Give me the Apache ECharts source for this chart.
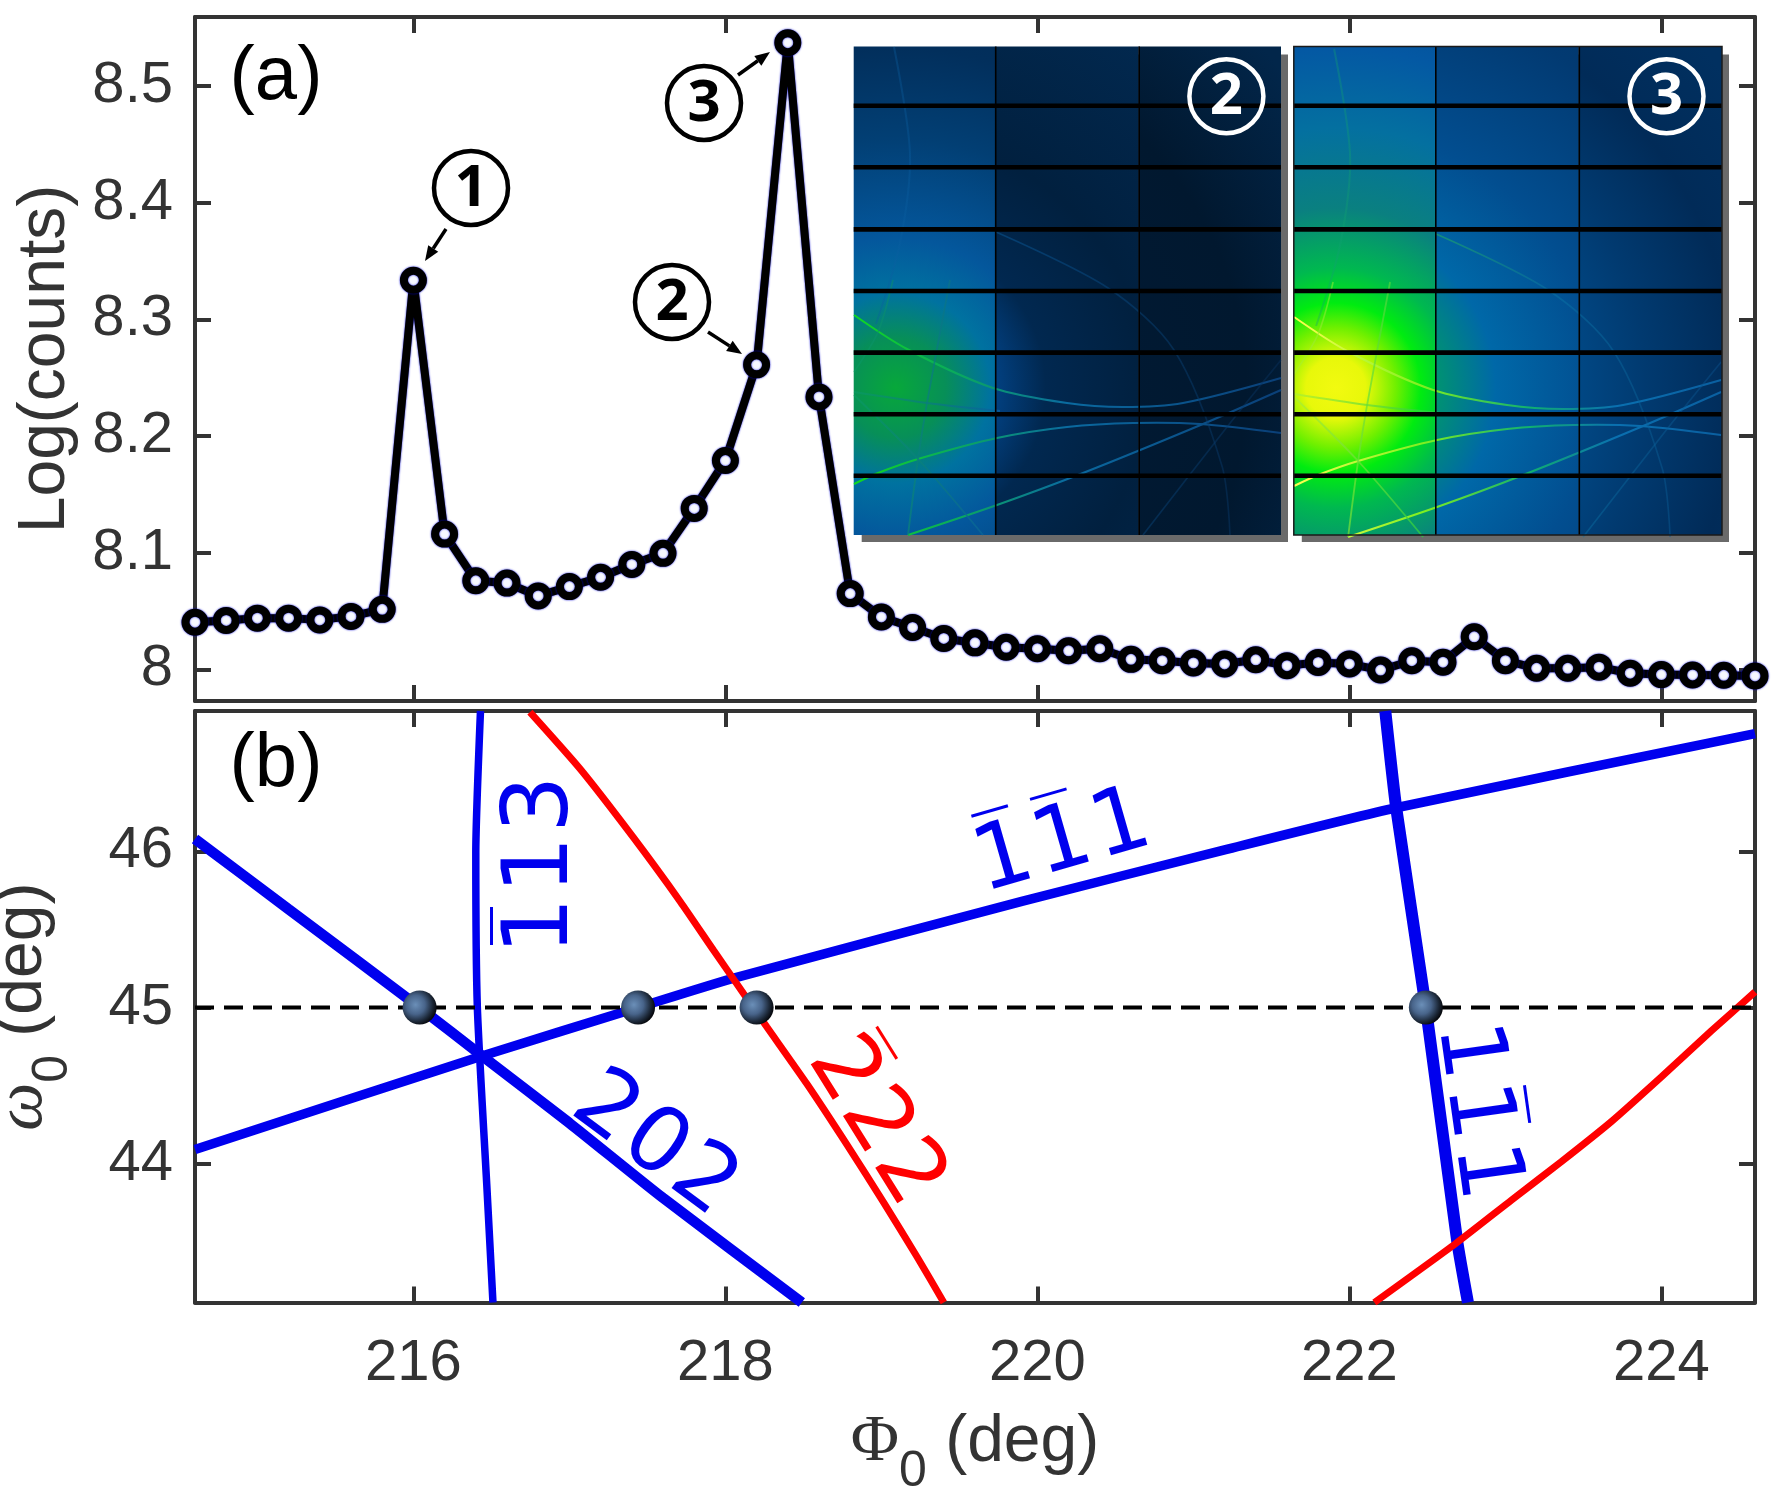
<!DOCTYPE html>
<html>
<head>
<meta charset="utf-8">
<title>Log(counts)</title>
<script src="https://cdn.jsdelivr.net/npm/echarts@6/dist/echarts.min.js"></script>
<style>
html, body { margin: 0; padding: 0; background: #fff; }
#main { width: 1775px; height: 1498px; }
</style>
</head>
<body>
<div id="main"></div>
<script>
// panel (a)
var phi = [214.6,214.8,215,215.2,215.4,215.6,215.8,216,216.2,216.4,216.6,216.8,217,217.2,217.4,217.6,217.8,218,218.2,218.4,218.6,218.8,
  219,219.2,219.4,219.6,219.8,220,220.2,220.4,220.6,220.8,221,221.2,221.4,221.6,221.8,222,222.2,222.4,222.6,222.8,223,223.2,223.4,223.6,223.8,224,224.2,224.4,224.6];
var logCounts = [8.0405,8.042,8.044,8.044,8.0425,8.0455,8.0515,8.3335,8.116,8.076,8.074,8.063,8.071,8.079,8.09,8.0995,8.138,8.179,8.261,8.537,8.2335,8.065,
  8.045,8.036,8.0266,8.0228,8.019,8.0178,8.016,8.0178,8.0087,8.0075,8.0056,8.0048,8.0083,8.0033,8.006,8.0048,7.9995,8.0075,8.0063,8.028,8.0075,8.001,8.001,8.002,7.9968,7.9956,7.9953,7.995,7.9945];

// panel (b), [phi, omega]
var line202 = [[214.6,46.08],[215.2,45.63],[216.04,45],[216.44,44.69],[217,44.26],[217.6,43.78],[218.49,43.11]];
var line113 = [[216.43,46.9],[216.40,45.99],[216.41,45],[216.47,43.87],[216.51,43.11]];
var line111a = [[214.6,44.09],[216.44,44.69],[217.44,45],[218.06,45.19],[219.9,45.68],[221.2,46.01],[222.3,46.28],[224.6,46.755]];
var line111b = [[222.23,46.9],[222.3,46.28],[222.49,45],[222.69,43.51],[222.76,43.11]];
var line222a = [[216.747,46.893],[217.068,46.53],[217.41,46.09],[217.71,45.68],[217.924,45.367],[218.116,45.09],[218.266,44.875],[218.523,44.51],[218.78,44.12],[219.015,43.75],[219.23,43.4],[219.4,43.11]];
var line222b = [[222.16,43.11],[222.684,43.49],[223.04,43.767],[223.358,44.012],[223.68,44.27],[224,44.556],[224.32,44.85],[224.6,45.1]];
var omegaLine = [[214.6,45],[224.6,45]];
var crossings = [[216.04,45],[217.44,45],[218.2,45],[222.49,45]];

var xTicks = [216,218,220,222,224];
var yTicksA = [8,8.1,8.2,8.3,8.4,8.5];
var yTicksB = [44,45,46];

var INK = '#333333', BLUE = '#0000ee', RED = '#ff0000';
var G = echarts.graphic;

function axis(gridIndex, min, max, ticks, pos, labels, extra) {
  var a = {
    type: 'value', gridIndex: gridIndex, min: min, max: max, position: pos,
    axisLine: { show: true, onZero: false, lineStyle: { color: INK, width: 4 } },
    axisTick: { show: true, inside: true, length: 16, customValues: ticks, lineStyle: { color: INK, width: 4 } },
    axisLabel: { show: labels, customValues: ticks, color: INK, fontSize: 58, fontFamily: 'Liberation Sans', margin: pos === 'left' ? 22 : 32, padding: pos === 'left' ? [8, 0, 0, 0] : 0 },
    splitLine: { show: false }
  };
  return Object.assign(a, extra || {});
}

function curve(data, color, width) {
  return {
    type: 'line', xAxisIndex: 2, yAxisIndex: 2, data: data, smooth: 0.2, showSymbol: false, symbol: 'none',
    lineStyle: { color: color, width: width, cap: 'butt' }, z: 3
  };
}

// ---- overlays
function arrow(x1, y1, x2, y2) {
  var a = Math.atan2(y2 - y1, x2 - x1), len = 15, w = 6;
  var bx = x2 - len * Math.cos(a), by = y2 - len * Math.sin(a);
  var nx = -Math.sin(a) * w, ny = Math.cos(a) * w;
  return [
    { type: 'line', z: 20, shape: { x1: x1, y1: y1, x2: bx, y2: by }, style: { stroke: '#000', lineWidth: 3.5 } },
    { type: 'polygon', z: 20, shape: { points: [[x2, y2], [bx + nx, by + ny], [bx - nx, by - ny]] }, style: { fill: '#000' } }
  ];
}

function badge(cx, cy, txt, color) {
  return [
    { type: 'circle', z: 20, shape: { cx: cx, cy: cy, r: 37 }, style: { fill: 'none', stroke: color, lineWidth: 4.5 } },
    { type: 'text', z: 21, style: { x: cx, y: cy + 1, text: txt, fill: color, font: 'bold 58px "Open Sans"', align: 'center', verticalAlign: 'middle', textAlign: 'center', textVerticalAlign: 'middle' } }
  ];
}

// rotated reflection label, one overbar per index in bars
function miller(cx, cy, deg, txt, bars, color) {
  var s = 90, adv = 61, n = txt.length, kids = [];
  txt.split('').forEach(function (ch, i) {
    kids.push({ type: 'text', style: { x: (i - (n - 1) / 2) * adv, y: 10, text: ch, fill: color, font: s + 'px "DejaVu Sans"', align: 'center', verticalAlign: 'middle', textAlign: 'center', textVerticalAlign: 'middle' } });
  });
  bars.forEach(function (i) {
    var mid = (i - (n - 1) / 2) * adv;
    kids.push({ type: 'rect', shape: { x: mid - 19, y: -44, width: 38, height: 3 }, style: { fill: color } });
  });
  return { type: 'group', x: cx, y: cy, rotation: deg * Math.PI / 180, z: 15, children: kids };
}

function stops(list) {
  return list.map(function (p) { return { offset: p[0], color: p[1] }; });
}

function inset(o) {
  var L = o.left, T = 46.5, W = o.width, H = 488.5, out = [];
  out.push({ type: 'rect', z: 10, shape: { x: L + 8, y: T + 8, width: W - 1, height: H - 1 }, style: { fill: '#6a6a6a' } });
  var cols = [[0, 142], [142, 143], [285, W - 285]];
  cols.forEach(function (c, i) {
    var fill = new G.RadialGradient(L + 42, 388, 500, stops(o.bands[i]), true);
    out.push({ type: 'rect', z: 11, shape: { x: L + c[0], y: T, width: c[1], height: H }, style: { fill: fill } });
  });
  // detector traces, drawn relative to the left inset
  var dx = L - 853.7;
  o.traces.forEach(function (t) {
    var pts = t.pts.map(function (p) { return [p[0] + dx, p[1] + o.dy]; });
    var stroke = new G.LinearGradient(L, 0, L + W, 0, stops(t.colors), true);
    out.push({ type: 'polyline', z: 12, shape: { points: pts, smooth: 0.3 }, style: { fill: 'none', stroke: stroke, lineWidth: t.w, opacity: t.op || 1 } });
  });
  [105.7, 167.3, 229.4, 291, 352.6, 414.2, 475.8].forEach(function (y) {
    out.push({ type: 'rect', z: 13, shape: { x: L, y: y - 2.3, width: W, height: 4.6 }, style: { fill: '#000' } });
  });
  [142, 285.5].forEach(function (x) {
    out.push({ type: 'rect', z: 13, shape: { x: L + x - 0.8, y: T, width: 1.6, height: H }, style: { fill: '#000' } });
  });
  return out;
}

var arcA = [[854,315],[907,349],[993,388],[1067,403],[1123,407],[1183,403],[1281,378]];
var arcB = [[854,484],[878,473],[918,459],[997,438],[1067,427],[1133,423],[1200,424],[1281,433]];
var arcC = [[908,535],[997,505],[1083,473],[1203,424],[1281,390]];
var diagD = [[854,395],[918,459],[983,535]];
var steepE = [[950,280],[927,403],[918,459],[908,535]];
var flatF = [[854,392],[927,403],[1000,411]];
var bigG = [[996,232],[1108,288],[1174,350],[1222,466],[1230,535]];
var leftH = [[893,280],[878,332],[854,372]];
var faintI = [[1143,535],[1227,427],[1281,360]];
var leftJ = [[894,47],[910,154],[900,243],[876,324]];

var tr2 = [[0,'#10d820'],[0.25,'#0aa860'],[0.5,'#0a6aa0'],[1,'#0a3f78']];
var tr2f = [[0,'#0a9a60'],[0.35,'#0a5ea0'],[1,'#08305c']];
var tr2j = [[0,'#0a5ea0'],[1,'#0a5ea0']];
var tr3 = [[0,'#ffff50'],[0.3,'#80f020'],[0.55,'#10b070'],[0.75,'#0a70b0'],[1,'#0a5fa0']];
var tr3f = [[0,'#b0f030'],[0.3,'#30d040'],[0.6,'#0a78a8'],[1,'#0a4f8c']];
var tr3j = [[0,'#10a070'],[1,'#10a070']];
function traces(main, faint, top) {
  return [
    { pts: arcA, colors: main, w: 2 }, { pts: arcB, colors: main, w: 2 }, { pts: arcC, colors: main, w: 2 },
    { pts: diagD, colors: faint, w: 1.8, op: 0.75 }, { pts: steepE, colors: faint, w: 1.8, op: 0.7 }, { pts: flatF, colors: faint, w: 1.8, op: 0.75 },
    { pts: bigG, colors: faint, w: 1.6, op: 0.45 }, { pts: leftH, colors: faint, w: 1.6, op: 0.6 },
    { pts: faintI, colors: faint, w: 1.6, op: 0.45 }, { pts: leftJ, colors: top, w: 2, op: 0.35 }
  ];
}

var inset2 = inset({
  left: 853.7, width: 427.3, dy: 0, traces: traces(tr2, tr2f, tr2j),
  bands: [
    [[0,'#07a83a'],[0.1,'#078f58'],[0.19,'#0072a0'],[0.3,'#04579c'],[0.5,'#023f74'],[0.68,'#022f5c'],[1,'#02264c']],
    [[0,'#024080'],[0.2,'#024080'],[0.3,'#012850'],[0.5,'#01203f'],[1,'#022c56']],
    [[0,'#011a34'],[0.4,'#011a34'],[0.7,'#01182f'],[1,'#02264a']]
  ]
});
var inset3 = inset({
  left: 1293.8, width: 428.2, dy: 2, traces: traces(tr3, tr3f, tr3j),
  bands: [
    [[0,'#f2fa10'],[0.06,'#e8f80a'],[0.12,'#70f000'],[0.17,'#00ec10'],[0.24,'#00b850'],[0.36,'#0a8080'],[0.52,'#0470a0'],[0.68,'#0458a3'],[1,'#023f7c']],
    [[0,'#00b050'],[0.18,'#009a68'],[0.32,'#0068a8'],[0.52,'#024e90'],[0.8,'#023a72'],[1,'#023568']],
    [[0,'#014a88'],[0.46,'#014a88'],[0.62,'#013a70'],[0.8,'#012b58'],[1,'#013060']]
  ]
});

var overlays = [].concat(
  inset2, inset3,
  [{ type: 'rect', z: 13, shape: { x: 1293.8, y: 46.5, width: 428.2, height: 488.5 }, style: { fill: 'none', stroke: '#1a1a1a', lineWidth: 1.5 } }],
  badge(1226.4, 96.3, '2', '#ffffff'), badge(1666.5, 96.3, '3', '#ffffff'),
  badge(471, 188, '1', '#000000'), badge(672, 302, '2', '#000000'), badge(704, 103, '3', '#000000'),
  arrow(446, 229, 425, 261), arrow(708, 332, 742, 354), arrow(738, 75, 770, 52),
  [
    { type: 'text', z: 20, style: { x: 276, y: 78, text: '(a)', fill: '#000', font: '76px "Liberation Sans"', align: 'center', verticalAlign: 'middle', textAlign: 'center', textVerticalAlign: 'middle' } },
    { type: 'text', z: 20, style: { x: 276, y: 765, text: '(b)', fill: '#000', font: '76px "Liberation Sans"', align: 'center', verticalAlign: 'middle', textAlign: 'center', textVerticalAlign: 'middle' } },
    miller(534, 865, 90, '113', [0], BLUE),
    miller(1060, 835, 16, '111', [0, 1], BLUE),
    miller(660, 1138, -36.5, '202', [], BLUE),
    miller(883, 1117, -58, '222', [0], RED),
    miller(1485, 1110, -82, '111', [1], BLUE)
  ]
);

var rich = {
  sym: { fontFamily: 'Liberation Serif', fontStyle: 'italic', fontSize: 68, color: INK, lineHeight: 110, verticalAlign: 'middle' },
  phi: { fontFamily: 'Liberation Serif', fontSize: 66, color: INK, lineHeight: 110, verticalAlign: 'middle' },
  sub: { fontFamily: 'Liberation Sans', fontSize: 50, color: INK, lineHeight: 50, verticalAlign: 'bottom' },
  txt: { fontFamily: 'Liberation Sans', fontSize: 66, color: INK, lineHeight: 110, verticalAlign: 'middle' }
};

var option = {
  animation: false,
  backgroundColor: '#ffffff',
  grid: [
    { left: 195, top: 17, width: 1560, height: 684, outerBoundsMode: 'none' },
    { left: 195, top: 711, width: 1560, height: 591.5, outerBoundsMode: 'none' }
  ],
  xAxis: [
    axis(0, 214.6, 224.6, xTicks, 'bottom', false),
    axis(0, 214.6, 224.6, xTicks, 'top', false),
    axis(1, 214.6, 224.6, xTicks, 'bottom', true, {
      name: '{phi|Φ}{sub|0}{txt| (deg)}', nameLocation: 'middle', nameGap: 85,
      nameTextStyle: { rich: rich, verticalAlign: 'top' }
    }),
    axis(1, 214.6, 224.6, xTicks, 'top', false)
  ],
  yAxis: [
    axis(0, 7.973, 8.559, yTicksA, 'left', true, {
      name: 'Log(counts)', nameLocation: 'middle', nameGap: 116,
      nameTextStyle: { color: INK, fontSize: 66, fontFamily: 'Liberation Sans' }
    }),
    axis(0, 7.973, 8.559, yTicksA, 'right', false),
    axis(1, 43.11, 46.9, yTicksB, 'left', true, {
      name: '{sym|ω}{sub|0}{txt| (deg)}', nameLocation: 'middle', nameGap: 117,
      nameTextStyle: { rich: rich }
    }),
    axis(1, 43.11, 46.9, yTicksB, 'right', false)
  ],
  series: [
    {
      type: 'line', xAxisIndex: 0, yAxisIndex: 0, clip: false, z: 5,
      data: phi.map(function (p, i) { return [p, logCounts[i]]; }),
      symbol: 'circle', symbolSize: 19, showAllSymbol: true,
      lineStyle: { color: '#000', width: 8, join: 'round', shadowColor: '#0000d0', shadowBlur: 2 },
      itemStyle: { color: '#f6f8ff', borderColor: '#000', borderWidth: 8, shadowColor: '#0000d0', shadowBlur: 2 }
    },
    curve(line202, BLUE, 10.5),
    curve(line113, BLUE, 7.5),
    curve(line111a, BLUE, 9.5),
    curve(line111b, BLUE, 12),
    curve(line222a, RED, 7),
    curve(line222b, RED, 7),
    {
      type: 'line', xAxisIndex: 2, yAxisIndex: 2, data: omegaLine, showSymbol: false, symbol: 'none', z: 4,
      lineStyle: { color: '#000', width: 4, type: [19, 10] }
    },
    {
      type: 'scatter', xAxisIndex: 2, yAxisIndex: 2, data: crossings, symbol: 'circle', symbolSize: 34, z: 6,
      itemStyle: {
        opacity: 1,
        color: new G.RadialGradient(0.38, 0.42, 0.62, stops([[0,'#6b8fb8'],[0.45,'#48648a'],[0.8,'#1c2838'],[1,'#07090e']]))
      }
    }
  ],
  graphic: { elements: overlays }
};

var myChart = echarts.init(document.getElementById('main'));
myChart.setOption(option);
</script>
</body>
</html>
